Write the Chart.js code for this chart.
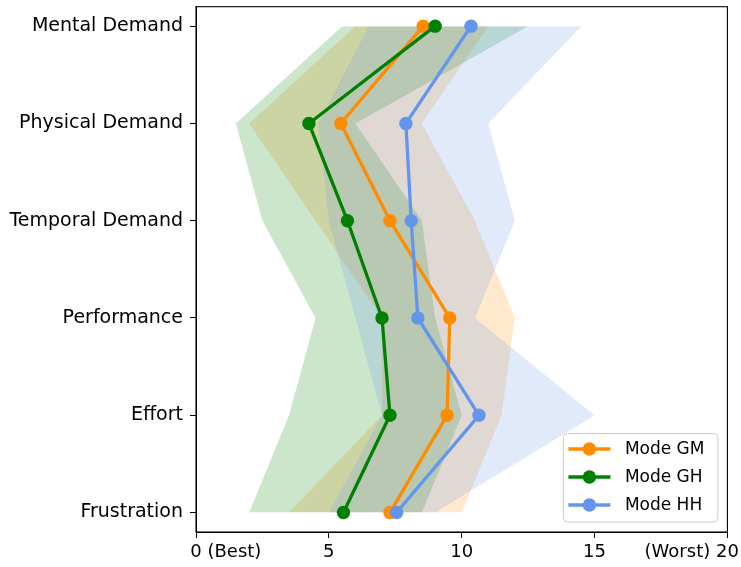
<!DOCTYPE html>
<html>
<head>
<meta charset="utf-8">
<style>
html,body{margin:0;padding:0;background:#fff;}
#wrap{width:741px;height:567px;position:relative;}
</style>
<script src="https://cdn.jsdelivr.net/npm/chart.js@4.4.1/dist/chart.umd.min.js"></script>
</head>
<body>
<div id="wrap"><canvas id="c"></canvas></div>
<script>
// ---- data ----
const categories = ['Mental Demand', 'Physical Demand', 'Temporal Demand', 'Performance', 'Effort', 'Frustration'];
const seriesNames = ['Mode GM', 'Mode GH', 'Mode HH'];
const gmMean = [8.55, 5.45, 7.3, 9.55, 9.45, 7.3];
const ghMean = [9.0, 4.25, 5.7, 7.0, 7.3, 5.55];
const hhMean = [10.35, 7.9, 8.1, 8.35, 10.65, 7.55];
const gmLow  = [6.0, 2.0, 4.5, 7.0, 7.0, 3.5];
const gmHigh = [11.0, 8.5, 10.5, 12.0, 11.5, 10.0];
const ghLow  = [5.5, 1.5, 2.5, 4.5, 3.5, 2.0];
const ghHigh = [12.5, 6.0, 8.5, 9.0, 10.0, 8.5];
const hhLow  = [6.5, 4.6, 5.0, 6.0, 7.0, 5.0];
const hhHigh = [14.5, 11.0, 12.0, 10.5, 15.0, 9.0];
const xTickLabels = {0: '0', 5: '5', 10: '10', 15: '15', 20: '20'};
const xEndNotes = ['(Best)', '(Worst)'];

// ---- styles ----
const COLORS = ['#ff8c00', '#008000', '#6495ed'];
const BANDS = ['rgba(255,140,0,0.2)', 'rgba(0,128,0,0.2)', 'rgba(100,149,237,0.2)'];
const FONT = '"DejaVu Sans", "Liberation Sans", sans-serif';
const X_FONT = {family: FONT, size: 18};
const Y_FONT = {family: FONT, size: 19};
const TICK_PAD = 4, TICK_LEN = 6;

const pts = arr => arr.map((v, i) => ({x: v, y: i}));

function bandSets(low, high, color, order) {
  return [
    {label: '_low', data: pts(low), borderWidth: 0, borderColor: 'transparent', pointRadius: 0, fill: false, backgroundColor: color, order: order, isBand: true},
    {label: '_high', data: pts(high), borderWidth: 0, borderColor: 'transparent', pointRadius: 0, fill: '-1', backgroundColor: color, order: order, isBand: true}
  ];
}
function lineSet(name, mean, color, order) {
  return {label: name, data: pts(mean), borderColor: color, backgroundColor: color, borderWidth: 3.3,
    pointRadius: 6.7, pointBackgroundColor: color, pointBorderWidth: 0, fill: false, order: order, tension: 0};
}

const datasets = [
  ...bandSets(gmLow, gmHigh, BANDS[0], 6),
  ...bandSets(ghLow, ghHigh, BANDS[1], 5),
  ...bandSets(hhLow, hhHigh, BANDS[2], 4),
  lineSet(seriesNames[0], gmMean, COLORS[0], 3),
  lineSet(seriesNames[1], ghMean, COLORS[1], 2),
  lineSet(seriesNames[2], hhMean, COLORS[2], 1)
];

const framePlugin = {
  id: 'frame',
  afterDatasetsDraw(chart) {
    const {ctx, chartArea: a} = chart;
    ctx.save();
    ctx.strokeStyle = '#000';
    ctx.lineWidth = 1.1;
    ctx.strokeRect(a.left, a.top, a.right - a.left, a.bottom - a.top);
    ctx.restore();
  }
};

const notesPlugin = {
  id: 'notes',
  afterDraw(chart) {
    const xs = chart.scales.x;
    const {ctx} = chart;
    ctx.save();
    ctx.font = X_FONT.size + 'px ' + FONT;
    ctx.fillStyle = '#000';
    ctx.textBaseline = 'middle';
    const y = xs.top + TICK_LEN + TICK_PAD + X_FONT.size * 1.2 / 2;
    const sp = ctx.measureText(' ').width;
    const p0 = xs.getPixelForValue(0);
    ctx.textAlign = 'left';
    ctx.fillText(xEndNotes[0], p0 + ctx.measureText(xTickLabels[0]).width / 2 + sp, y);
    const p1 = xs.getPixelForValue(20);
    ctx.textAlign = 'right';
    ctx.fillText(xEndNotes[1], p1 - ctx.measureText(xTickLabels[20]).width / 2 - sp, y);
    ctx.restore();
  }
};

const legendPlugin = {
  id: 'mplLegend',
  afterDraw(chart) {
    const {ctx, chartArea: a} = chart;
    const lines = chart.data.datasets.filter(d => !d.isBand);
    const w = 154.5, h = 88.5;
    const right = a.right - 10, bottom = a.bottom - 10.5;
    const left = right - w, top = bottom - h;
    ctx.save();
    ctx.beginPath();
    ctx.roundRect(left + 0.5, top + 0.5, w, h, 4);
    ctx.fillStyle = 'rgba(255,255,255,0.8)';
    ctx.fill();
    ctx.strokeStyle = '#cccccc';
    ctx.lineWidth = 1;
    ctx.stroke();
    ctx.font = '17px ' + FONT;
    ctx.textBaseline = 'middle';
    ctx.textAlign = 'left';
    lines.forEach((d, i) => {
      const y = top + 16 + i * 28;
      ctx.strokeStyle = d.borderColor;
      ctx.lineWidth = 3.3;
      ctx.beginPath();
      ctx.moveTo(left + 5.5, y);
      ctx.lineTo(left + 47.5, y);
      ctx.stroke();
      ctx.fillStyle = d.borderColor;
      ctx.beginPath();
      ctx.arc(left + 26.5, y, 6.7, 0, Math.PI * 2);
      ctx.fill();
      ctx.fillStyle = '#000';
      ctx.fillText(d.label, left + 62, y + 1);
    });
    ctx.restore();
  }
};

new Chart(document.getElementById('c'), {
  type: 'line',
  data: {datasets: datasets},
  options: {
    indexAxis: 'y',
    responsive: true,
    maintainAspectRatio: false,
    animation: false,
    events: [],
    layout: {padding: {top: 5, right: 13.6, left: 0, bottom: 0}},
    plugins: {
      legend: {display: false},
      tooltip: {enabled: false},
      filler: {propagate: false}
    },
    scales: {
      x: {
        type: 'linear', position: 'bottom', min: 0, max: 20,
        afterBuildTicks: s => { s.ticks = Object.keys(xTickLabels).map(v => ({value: +v})); },
        ticks: {callback: v => xTickLabels[v], font: X_FONT, color: '#000', padding: TICK_PAD, maxRotation: 0, autoSkip: false},
        grid: {drawOnChartArea: false, drawTicks: true, tickLength: TICK_LEN, color: '#000', lineWidth: 1},
        border: {display: true, color: '#000', width: 1},
        afterFit: s => { s.height = 35; s.paddingLeft = 0; s.paddingRight = 0; }
      },
      y: {
        type: 'linear', position: 'left', reverse: true, min: -0.2, max: 5.2,
        afterBuildTicks: s => { s.ticks = categories.map((_, i) => ({value: i})); },
        ticks: {callback: v => categories[v], font: Y_FONT, color: '#000', padding: 7, autoSkip: false},
        grid: {drawOnChartArea: false, drawTicks: true, tickLength: TICK_LEN, color: '#000', lineWidth: 1},
        border: {display: true, color: '#000', width: 1},
        afterFit: s => { s.width = 196; s.paddingTop = 0; s.paddingBottom = 0; }
      }
    }
  },
  plugins: [framePlugin, notesPlugin, legendPlugin]
});
</script>
</body>
</html>
